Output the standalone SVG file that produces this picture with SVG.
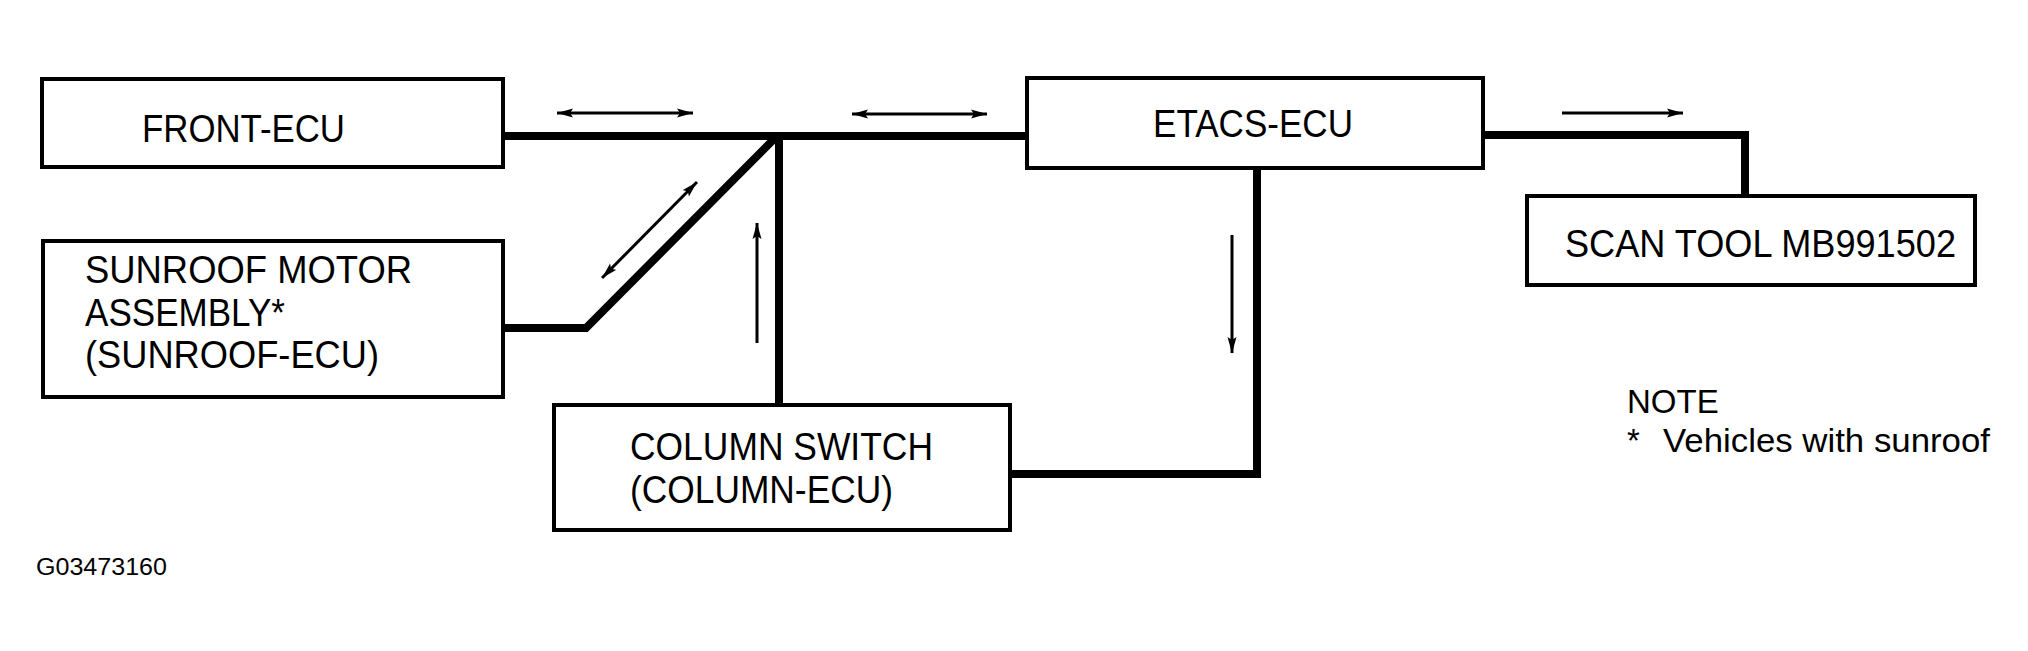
<svg xmlns="http://www.w3.org/2000/svg" width="2028" height="651" viewBox="0 0 2028 651">
<style>
.box{fill:#fff;stroke:#000;stroke-width:4}
.wire{fill:none;stroke:#000;stroke-width:8;stroke-linejoin:miter}
.arr{fill:none;stroke:#000;stroke-width:3}
.lbl{font-family:"Liberation Sans",Arial,sans-serif;font-size:38px;fill:#000}
.note{font-family:"Liberation Sans",Arial,sans-serif;font-size:33px;fill:#000}
.code{font-family:"Liberation Sans",Arial,sans-serif;font-size:23px;fill:#000}
</style>
<defs>
<marker id="ah" markerUnits="userSpaceOnUse" markerWidth="18" markerHeight="10" refX="16" refY="5" orient="auto-start-reverse">
<path d="M0,0.5 L16,5 L0,9.5 L3,5 Z" fill="#000"/>
</marker>
</defs>
<g id="connectors">
<path class="wire" d="M503,136 H1027"/>
<path class="wire" d="M779,136 V405"/>
<path class="wire" d="M503,328 H586 L776,137"/>
<path class="wire" d="M1257,168 V474 H1010"/>
<path class="wire" d="M1483,135 H1745 V196"/>
<line class="arr" x1="557" y1="113" x2="693" y2="113" marker-start="url(#ah)" marker-end="url(#ah)"/>
<line class="arr" x1="852" y1="114" x2="987" y2="114" marker-start="url(#ah)" marker-end="url(#ah)"/>
<line class="arr" x1="1562" y1="113" x2="1683" y2="113" marker-end="url(#ah)"/>
<line class="arr" x1="602" y1="278" x2="697" y2="182" marker-start="url(#ah)" marker-end="url(#ah)"/>
<line class="arr" x1="757" y1="343" x2="757" y2="223" marker-end="url(#ah)"/>
<line class="arr" x1="1232" y1="235" x2="1232" y2="353" marker-end="url(#ah)"/>
</g>
<g id="front-ecu">
<rect class="box" x="42" y="79" width="461" height="88"/>
<text class="lbl" x="142" y="142" textLength="203" lengthAdjust="spacingAndGlyphs">FRONT-ECU</text>
</g>
<g id="sunroof">
<rect class="box" x="43" y="241" width="460" height="156"/>
<text class="lbl" x="85" y="283" textLength="327" lengthAdjust="spacingAndGlyphs">SUNROOF MOTOR</text>
<text class="lbl" x="85" y="326" textLength="200" lengthAdjust="spacingAndGlyphs">ASSEMBLY*</text>
<text class="lbl" x="85" y="368" textLength="294" lengthAdjust="spacingAndGlyphs">(SUNROOF-ECU)</text>
</g>
<g id="column-switch">
<rect class="box" x="554" y="405" width="456" height="125"/>
<text class="lbl" x="630" y="460" textLength="303" lengthAdjust="spacingAndGlyphs">COLUMN SWITCH</text>
<text class="lbl" x="630" y="503" textLength="263" lengthAdjust="spacingAndGlyphs">(COLUMN-ECU)</text>
</g>
<g id="etacs-ecu">
<rect class="box" x="1027" y="78" width="456" height="90"/>
<text class="lbl" x="1153" y="137" textLength="200" lengthAdjust="spacingAndGlyphs">ETACS-ECU</text>
</g>
<g id="scan-tool">
<rect class="box" x="1527" y="196" width="448" height="89"/>
<text class="lbl" x="1565" y="257" textLength="391" lengthAdjust="spacingAndGlyphs">SCAN TOOL MB991502</text>
</g>
<g id="note">
<text class="note" x="1627" y="413">NOTE</text>
<text class="note" x="1627" y="452">*<tspan x="1663" textLength="327" lengthAdjust="spacingAndGlyphs">Vehicles with sunroof</tspan></text>
</g>
<text class="code" x="36" y="575" textLength="131" lengthAdjust="spacingAndGlyphs">G03473160</text>
</svg>
